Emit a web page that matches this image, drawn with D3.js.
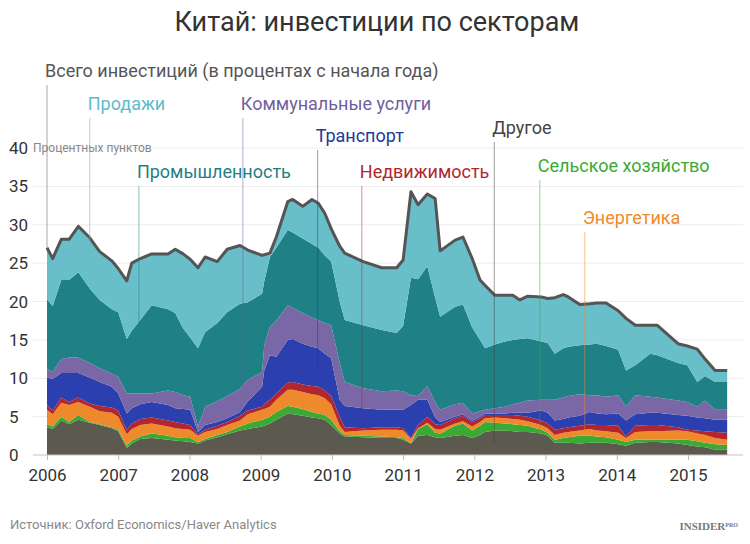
<!DOCTYPE html>
<html><head><meta charset="utf-8">
<script src="https://cdn.jsdelivr.net/npm/d3@7"></script>
<style>
html,body{margin:0;padding:0;background:#fff;}
svg{display:block;font-family:Roboto,"Noto Sans",sans-serif;}
</style></head>
<body><svg id="chart" width="750" height="544"></svg>
<script>
// ---- data (decimal years, percentage points contribution) ----
const years = [2006.00,2006.08,2006.20,2006.31,2006.44,2006.60,2006.74,2006.91,
  2007.00,2007.12,2007.19,2007.31,2007.47,2007.70,2007.80,2007.91,
  2008.01,2008.12,2008.22,2008.39,2008.53,2008.71,2008.82,
  2009.02,2009.05,2009.13,2009.22,2009.38,2009.45,2009.59,2009.72,2009.81,2009.90,2009.99,
  2010.11,2010.18,2010.44,2010.70,2010.91,
  2011.00,2011.11,2011.21,2011.34,2011.45,2011.52,2011.73,2011.84,2011.97,
  2012.08,2012.15,2012.29,2012.43,2012.54,2012.64,2012.75,2012.94,
  2013.03,2013.13,2013.25,2013.32,2013.48,2013.62,2013.72,2013.85,
  2014.02,2014.13,2014.26,2014.47,2014.57,2014.86,2014.99,
  2015.13,2015.24,2015.38,2015.55];

const other = [3.6,3.4,4.5,4.0,4.6,4.2,3.9,3.5, 3.1,0.9,1.5,2.1,2.2,2.0,1.9,1.8,
  1.7,1.5,1.9,2.3,2.7,3.2,3.4, 3.7,3.8,4.1,4.6,5.4,5.3,5.1,4.9,4.8,4.6,3.9,
  2.8,2.4,2.3,2.2,2.2, 2.0,1.5,2.5,2.6,2.3,2.2,2.5,2.6,2.2,
  2.6,3.0,3.2,3.2,3.1,3.0,3.0,2.8, 2.5,1.6,1.6,1.6,1.5,1.6,1.6,1.6,
  1.4,1.2,1.6,1.7,1.7,1.5,1.3, 1.1,1.0,0.7,0.7];
const agriculture = [0.4,0.3,0.5,0.3,0.6,0.1,0.1,0.1, 0.2,0.3,0.4,0.3,0.6,0.5,0.4,0.4,
  0.5,0.2,0.2,0.3,0.3,0.5,0.7, 0.9,0.9,0.9,1.0,1.0,1.0,0.9,0.7,0.6,0.6,0.7,
  0.3,0.2,0.2,0.2,0.1, 0.2,0.0,0.9,1.4,0.6,0.6,1.3,1.5,1.0,
  1.2,1.3,1.0,0.9,0.9,0.9,0.8,0.5, 0.4,0.4,0.6,0.7,1.0,0.9,0.8,0.7,
  0.6,0.5,0.4,0.3,0.3,0.5,0.7, 0.7,0.6,0.7,0.6];
const energy = [1.9,1.6,1.8,2.2,1.7,2.0,1.7,1.9, 1.7,1.5,1.5,1.5,1.3,1.2,1.2,1.2,
  1.1,0.8,0.9,0.8,0.9,0.8,1.2, 1.3,1.3,1.3,1.6,2.1,2.2,2.2,2.3,2.4,2.2,2.0,
  0.7,0.4,0.7,0.9,1.0, 1.0,0.6,0.1,0.2,0.5,0.5,0.3,0.3,0.5,
  0.5,0.5,0.7,0.7,0.7,0.7,0.6,0.6, 0.6,0.6,0.7,0.7,0.7,0.9,0.8,0.8,
  0.9,0.5,1.0,1.1,1.1,1.2,1.1, 1.0,1.0,0.8,0.7];
const realEstate = [0.6,0.5,0.7,0.4,0.6,0.4,0.7,0.7, 0.8,0.6,0.7,0.8,0.8,0.8,0.8,0.7,
  0.6,0.2,0.3,0.4,0.4,0.6,0.5, 0.4,0.6,0.9,0.8,0.9,1.0,1.0,1.1,1.1,1.0,1.1,
  1.2,0.6,0.3,0.3,0.3, 0.3,0.1,0.4,0.8,0.6,0.6,0.7,0.7,0.6,
  0.5,0.4,0.3,0.4,0.5,0.5,0.6,0.6, 0.6,0.7,0.6,0.6,0.6,0.6,0.7,0.8,
  0.9,0.2,0.8,0.8,0.8,0.4,0.2, 0.4,0.5,0.8,0.9];
const transport = [3.6,4.1,3.2,3.8,3.2,3.4,3.1,2.7, 2.2,2.1,2.0,1.9,2.0,2.0,1.8,1.9,
  2.0,0.3,0.6,0.5,0.5,0.5,1.2, 2.6,4.4,5.8,4.8,5.6,5.6,5.3,5.1,5.0,4.8,4.9,
  2.2,2.8,2.6,2.3,2.3, 2.4,4.3,3.3,2.2,0.9,0.4,0.2,0.2,0.2,
  0.2,0.2,0.2,0.2,0.3,0.4,0.5,1.3, 1.4,1.2,1.2,1.3,1.3,1.6,1.5,1.4,
  1.6,2.1,1.5,1.6,1.6,1.6,1.8, 1.7,1.7,1.6,1.7];
const utilities = [1.1,0.9,1.8,2.0,2.0,1.9,1.8,1.7, 2.2,2.6,1.9,1.4,1.1,1.9,2.1,1.8,
  1.7,0.7,2.4,2.7,2.9,3.0,2.8, 1.9,3.3,3.7,4.7,4.5,4.1,4.0,3.8,3.7,4.0,4.3,
  4.8,3.1,2.6,2.4,2.5, 2.4,1.3,0.5,1.8,2.0,1.6,1.6,1.5,0.9,
  0.7,0.5,0.7,0.9,1.1,1.3,1.6,1.4, 1.7,2.7,2.8,2.8,2.8,2.2,2.4,2.3,
  2.4,1.8,2.5,2.1,2.0,1.9,1.8, 1.4,2.3,1.3,1.3];
const industry = [9.1,8.6,10.3,10.1,11.1,9.7,8.9,8.4, 8.4,7.1,8.2,9.6,11.5,10.6,10.3,8.7,
  7.7,10.2,9.7,10.2,10.9,11.1,10.1, 10.2,8.3,9.1,9.5,9.8,9.8,9.7,9.6,9.4,8.8,8.3,
  8.0,8.1,8.2,8.0,7.5, 8.5,15.3,15.2,15.6,13.6,12.1,12.7,12.8,11.2,
  9.3,8.0,8.3,8.5,8.4,8.3,8.1,7.6, 7.4,6.0,6.4,6.4,6.4,6.6,6.7,6.6,
  5.9,4.7,3.9,5.6,5.5,4.9,4.8, 3.2,3.2,3.6,3.6];
const sales = [6.7,6.2,5.3,5.3,6.0,6.6,6.3,6.3, 5.7,7.6,8.8,8.0,6.7,7.2,8.3,9.7,
  10.2,10.5,9.8,8.0,8.2,7.6,6.8, 5.0,3.5,0.5,1.4,3.7,4.3,4.2,5.8,5.8,5.5,4.3,
  7.2,8.7,8.3,8.1,8.5, 8.6,11.2,9.7,9.4,12.9,8.6,8.7,8.8,9.0,
  7.8,8.2,6.4,6.0,5.8,5.1,5.5,5.8, 5.8,7.3,7.0,6.5,5.3,5.3,5.3,5.6,
  5.1,6.8,5.2,3.7,3.9,2.5,2.5, 4.3,2.2,1.5,1.5];

const seriesKeys = ["Другое","Сельское хозяйство","Энергетика","Недвижимость","Транспорт","Коммунальные услуги","Промышленность","Продажи"];
const seriesValues = [other, agriculture, energy, realEstate, transport, utilities, industry, sales];
const seriesColors = ["#5c5a4e","#3aaa35","#ef8a2c","#b3262b","#2c3fae","#7a68a6","#1f8086","#68bfca"];
const yTicks = [0,5,10,15,20,25,30,35,40];
const xTicks = [2006,2007,2008,2009,2010,2011,2012,2013,2014,2015];

const title = "Китай: инвестиции по секторам";
const subtitle = "Всего инвестиций (в процентах с начала года)";
const unitLabel = "Процентных пунктов";
const source = "Источник: Oxford Economics/Haver Analytics";

// annotations: label, series key (or "total"), year for leader, text color, baseline y
const annotations = [
  {text: subtitle, key: "total", year: 2006.0, color: "#555", ty: 77, size: 18},
  {text: "Продажи", key: "Продажи", year: 2006.60, color: "#5bbdcb", ty: 110, size: 18},
  {text: "Коммунальные услуги", key: "Коммунальные услуги", year: 2008.75, color: "#6f5f9f", ty: 110, size: 18},
  {text: "Транспорт", key: "Транспорт", year: 2009.80, color: "#24399c", ty: 142, size: 18},
  {text: "Другое", key: "Другое", year: 2012.28, color: "#444", ty: 134, size: 18},
  {text: "Промышленность", key: "Промышленность", year: 2007.29, color: "#1f7f86", ty: 178, size: 18},
  {text: "Недвижимость", key: "Недвижимость", year: 2010.42, color: "#b0262c", ty: 178, size: 18},
  {text: "Сельское хозяйство", key: "Сельское хозяйство", year: 2012.92, color: "#3aaa35", ty: 172, size: 18},
  {text: "Энергетика", key: "Энергетика", year: 2013.55, color: "#ef8a2c", ty: 224, size: 18}
];

// ---- build ----
const table = years.map((yr, i) => {
  const row = {year: yr};
  seriesKeys.forEach((k, j) => row[k] = seriesValues[j][i]);
  return row;
});
const stack = d3.stack().keys(seriesKeys)(table);

const svg = d3.select("#chart");
const x = d3.scaleLinear().domain([2006, 2015]).range([47, 688]);
const y = d3.scaleLinear().domain([0, 40]).range([455, 148]);

// grid
svg.append("g").selectAll("line").data(yTicks.filter(d => d > 0)).join("line")
  .attr("x1", 33).attr("x2", 743)
  .attr("y1", d => y(d)).attr("y2", d => y(d))
  .attr("stroke", "#ececec").attr("stroke-width", 1);

// y labels
svg.append("g").selectAll("text").data(yTicks).join("text")
  .attr("x", 9).attr("y", d => y(d)).attr("dy", "0.36em")
  .attr("font-size", 17).attr("fill", "#333").text(d => d);
svg.append("text").attr("x", 33).attr("y", y(40)).attr("dy", "0.36em")
  .attr("font-size", 12).attr("fill", "#888").text(unitLabel);

// areas
const area = d3.area().x(d => x(d.data.year)).y0(d => y(d[0])).y1(d => y(d[1]));
svg.append("g").selectAll("path").data(stack).join("path")
  .attr("d", area).attr("fill", (d, i) => seriesColors[i]);

// baseline
svg.append("line").attr("x1", 33).attr("x2", 743).attr("y1", y(0)).attr("y2", y(0))
  .attr("stroke", "#c4c4c4").attr("stroke-width", 1);

// x axis
const xAxis = svg.append("g").attr("transform", `translate(0,${y(0)})`)
  .call(d3.axisBottom(x).tickValues(xTicks).tickFormat(d3.format("d")).tickSize(5).tickPadding(9));
xAxis.select(".domain").remove();
xAxis.selectAll(".tick line").attr("stroke", "#bbb");
xAxis.selectAll(".tick text").attr("font-size", 17).attr("fill", "#333")
  .attr("font-family", "Roboto, sans-serif");

// total line
const topLayer = stack[stack.length - 1];
svg.append("path").datum(topLayer)
  .attr("d", d3.line().x(d => x(d.data.year)).y(d => y(d[1])))
  .attr("fill", "none").attr("stroke", "#555").attr("stroke-width", 3)
  .attr("stroke-linejoin", "round");

// interpolation helper for leader end
function bandAt(key, yr) {
  const idx = key === "total" ? seriesKeys.length - 1 : seriesKeys.indexOf(key);
  const layer = stack[idx];
  const b = d3.bisector(d => d.data.year).left(layer, yr);
  const i1 = Math.min(Math.max(b, 1), layer.length - 1), i0 = i1 - 1;
  const p0 = layer[i0], p1 = layer[i1];
  const t = (yr - p0.data.year) / (p1.data.year - p0.data.year);
  const lo = p0[0] + (p1[0] - p0[0]) * t, hi = p0[1] + (p1[1] - p0[1]) * t;
  return key === "total" ? hi : (lo + hi) / 2;
}

// annotations
const ann = svg.append("g");
annotations.forEach(a => {
  const lx = x(a.year);
  ann.append("line").attr("x1", lx).attr("x2", lx)
    .attr("y1", a.ty + 8).attr("y2", y(bandAt(a.key, a.year)))
    .attr("stroke", a.color).attr("stroke-width", 1).attr("opacity", 0.5);
  ann.append("text").attr("x", lx - 2).attr("y", a.ty)
    .attr("font-size", a.size).attr("fill", a.color).text(a.text);
});

// title
svg.append("text").attr("x", 377).attr("y", 31).attr("text-anchor", "middle")
  .attr("font-size", 27).attr("fill", "#333").text(title);

// footer
svg.append("text").attr("x", 10).attr("y", 529).attr("font-size", 13)
  .attr("fill", "#888").text(source);
const brand = svg.append("text").attr("x", 738).attr("y", 530).attr("text-anchor", "end")
  .attr("font-family", "'Liberation Serif', serif").attr("font-weight", "bold").attr("fill", "#777");
brand.append("tspan").attr("font-size", 11).text("INSIDER");
brand.append("tspan").attr("font-size", 6).attr("dy", -3).text("PRO");
</script></body></html>
